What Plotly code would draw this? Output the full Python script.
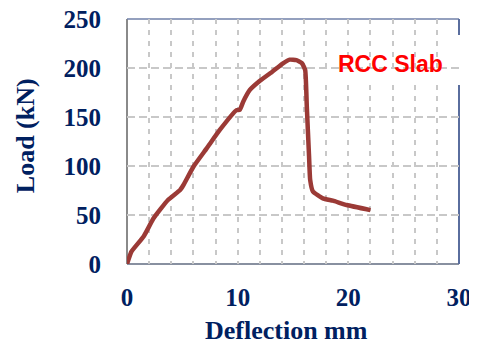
import plotly.graph_objects as go

# Data
deflection_mm = [0, 0.4, 1.5, 2.4, 3.7, 4.8, 5.1, 6.0, 7.2, 8.4, 9.9, 10.2, 10.5,
                 11.1, 11.9, 13.1, 14.1, 14.7, 15.3, 15.8, 16.1, 16.25, 16.45,
                 16.55, 16.8, 17.7, 18.6, 19.85, 22.0]
load_kn = [0, 12.6, 28, 46.6, 65.3, 75.5, 80.6, 99.3, 118, 137, 157, 157.5, 165.6,
           177.6, 186, 196, 204.8, 208.5, 208, 205, 198, 160, 110,
           86, 74, 67, 64.6, 60.2, 55]
x_ticks = [0, 10, 20, 30]
y_ticks = [0, 50, 100, 150, 200, 250]
label_text = "RCC Slab"
label_pos = (23.8, 201.5)

NAVY = "#002060"
GRID = "#c8c8c8"
SERIF = "Liberation Serif, Times New Roman, serif"

fig = go.Figure()
fig.add_trace(go.Scatter(
    x=deflection_mm, y=load_kn, mode="lines",
    line=dict(color="#9b3a36", width=4.5, shape="spline", smoothing=0.4),
    hoverinfo="skip", showlegend=False,
))
fig.add_trace(go.Scatter(
    x=[label_pos[0]], y=[label_pos[1]], mode="text", text=[label_text],
    textposition="middle center",
    textfont=dict(family="Liberation Sans, Arial, sans-serif", size=23,
                  color="#ff0000", weight="bold"),
    hoverinfo="skip", showlegend=False, cliponaxis=False,
))

# the page body adds an 8px offset, so the figure is 8px smaller on both axes
fig.update_layout(
    width=469, height=334,
    margin=dict(l=119, r=18, t=11, b=78, autoexpand=False),
    paper_bgcolor="white", plot_bgcolor="white",
    showlegend=False,
    xaxis=dict(
        range=[0, 30], tickvals=x_ticks, ticks="", showline=False, zeroline=False,
        automargin=False, ticklabeloverflow="allow",
        showgrid=True, gridcolor=GRID, gridwidth=1.5, griddash="5px,6px",
        minor=dict(dtick=2, showgrid=True, gridcolor=GRID, gridwidth=1.5,
                   griddash="5px,6px"),
        tickfont=dict(family=SERIF, size=25, color=NAVY, weight="bold"),
        ticklabelstandoff=16,
    ),
    yaxis=dict(
        range=[0, 250], tickvals=y_ticks, ticks="", showline=False, zeroline=False,
        automargin=False, ticklabeloverflow="allow",
        showgrid=True, gridcolor=GRID, gridwidth=1.5, griddash="8px,4px",
        tickfont=dict(family=SERIF, size=25, color=NAVY, weight="bold"),
        ticklabelstandoff=25,
    ),
    annotations=[
        dict(text="Deflection mm", xref="paper", yref="paper", x=0.479, y=-0.27,
             xanchor="center", yanchor="middle", showarrow=False,
             font=dict(family=SERIF, size=26, color=NAVY, weight="bold")),
        dict(text="Load (kN)", xref="paper", yref="paper", x=-0.307, y=0.522,
             xanchor="center", yanchor="middle", showarrow=False, textangle=-90,
             font=dict(family=SERIF, size=26, color=NAVY, weight="bold")),
    ],
    shapes=[
        # white label box hiding gridlines
        dict(type="rect", xref="paper", yref="paper", x0=0.566, x1=1.06,
             y0=0.7306, y1=0.935, fillcolor="white", line=dict(width=0),
             layer="between"),
        # left & bottom axes
        dict(type="line", xref="paper", yref="paper", x0=0, x1=0, y0=0, y1=1,
             line=dict(color="#8a8a8a", width=2), layer="between"),
        dict(type="line", xref="paper", yref="paper", x0=0, x1=1, y0=0, y1=0,
             line=dict(color="#8890a0", width=2), layer="between"),
        # top & right border
        dict(type="line", xref="paper", yref="paper", x0=0, x1=1, y0=1, y1=1,
             line=dict(color="#7080a8", width=1.5), layer="between"),
        dict(type="line", xref="paper", yref="paper", x0=1, x1=1, y0=0, y1=0.7306,
             line=dict(color="#5a6e9e", width=2), layer="between"),
        dict(type="line", xref="paper", yref="paper", x0=1, x1=1, y0=0.935, y1=1,
             line=dict(color="#5a6e9e", width=2), layer="between"),
        # strip clipping the bottom of the label text
        dict(type="rect", xref="paper", yref="paper", x0=0.566, x1=1.06,
             y0=0.7306, y1=0.7816, fillcolor="white", line=dict(width=0),
             layer="above"),
    ],
)

fig.write_html("out.html")
